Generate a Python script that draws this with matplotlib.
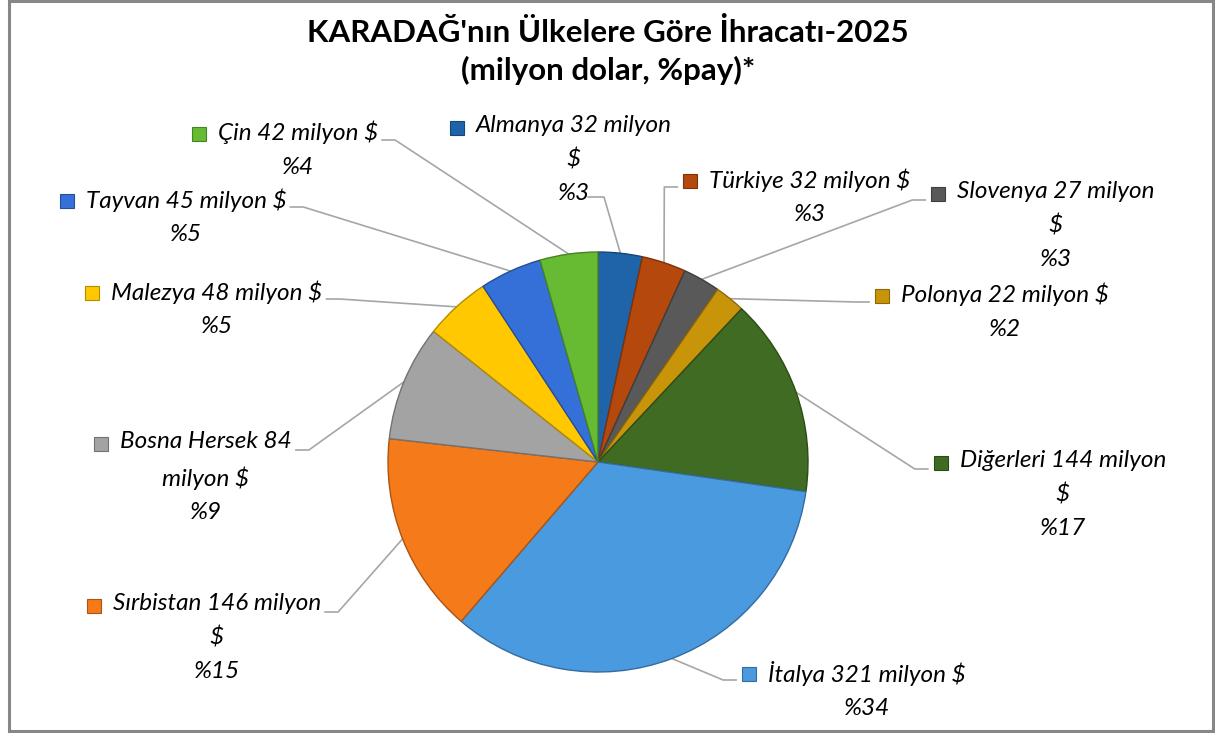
import matplotlib.pyplot as plt
import numpy as np
from matplotlib.patches import Rectangle
from matplotlib.colors import to_rgb

# data
countries = ["Almanya", "Türkiye", "Slovenya", "Polonya", "Diğerleri", "İtalya",
             "Sırbistan", "Bosna Hersek", "Malezya", "Tayvan", "Çin"]
values = [32, 32, 27, 22, 144, 321, 146, 84, 48, 45, 42]
shares = [3, 3, 3, 2, 17, 34, 15, 9, 5, 5, 4]
colors = ["#1F63A8", "#B5480C", "#595959", "#C8940A", "#3F6B22", "#4A9AE0",
          "#F47A1A", "#A3A3A3", "#FFC800", "#3570D8", "#66BB33"]

# label layout (pixels): text centre x, first line centre y, words on first line, side
lab_x = [574, 810, 1056, 1005, 1063, 867, 217, 206, 217, 186, 298]
lab_y = [127, 180, 193, 295, 462, 673, 605, 443, 292, 200, 133]
first_words = [3, 4, 3, 4, 3, 4, 3, 3, 4, 4, 4]
side = ["T", "R", "R", "R", "R", "R", "L", "L", "L", "L", "L"]

W, H = 1215, 733
LINE = 33
plt.rcParams['font.family'] = ['Lato', 'DejaVu Sans']

fig = plt.figure(figsize=(W / 100, H / 100), dpi=100)
ax = fig.add_axes([0, 0, 1, 1])

cx, cy, r = 598, H - 462, 210
wedges, _ = ax.pie(values, colors=colors, startangle=90, counterclock=False,
                   center=(cx, cy), radius=r,
                   wedgeprops=dict(linewidth=1.0))
for w, c in zip(wedges, colors):
    w.set_edgecolor(tuple(v * 0.7 for v in to_rgb(c)))

ax.set_xlim(0, W)
ax.set_ylim(0, H)
ax.set_aspect('auto')
ax.axis('off')

# title
ax.text(608, H - 32, "KARADAĞ'nın Ülkelere Göre İhracatı-2025", ha='center', va='center',
        fontsize=22.5, fontweight='bold')
ax.text(608, H - 70, "(milyon dolar, %pay)*", ha='center', va='center',
        fontsize=22.5, fontweight='bold')

texts = []
for i, name in enumerate(countries):
    words = f"{name} {values[i]} milyon $".split()
    lines = [" ".join(words[:first_words[i]])]
    if first_words[i] < len(words):
        lines.append(" ".join(words[first_words[i]:]))
    lines.append(f"%{shares[i]}")
    t = ax.text(lab_x[i], H - lab_y[i] + 12, "\n".join(lines), ha='center', va='top',
                multialignment='center', fontsize=17.5, fontstyle='italic',
                linespacing=1.72, color='black')
    texts.append(t)

fig.canvas.draw()
ren = fig.canvas.get_renderer()

for i, t in enumerate(texts):
    bb = t.get_window_extent(renderer=ren)
    ly = H - lab_y[i]
    # legend key
    ax.add_patch(Rectangle((bb.x0 - 26, ly - 8), 14, 14, facecolor=colors[i],
                           edgecolor=tuple(v * 0.7 for v in to_rgb(colors[i])), linewidth=0.8))
    w = wedges[i]
    ang = np.deg2rad((w.theta1 + w.theta2) / 2)
    px, py = cx + r * np.cos(ang), cy + r * np.sin(ang)
    if side[i] == "L":
        x0, y0 = bb.x1 + 4, ly - 7
        xs, ys = [x0, x0 + 13, px], [y0, y0, py]
    elif side[i] == "R":
        x0, y0 = bb.x0 - 32, ly - 7
        xs, ys = [x0, x0 - 13, px], [y0, y0, py]
    else:
        x0, y0 = lab_x[i] + 14, ly - 2 * LINE - 4
        xs, ys = [x0, x0 + 16, px], [y0, y0, py]
    ax.plot(xs, ys, color='#A6A6A6', linewidth=1.2, zorder=0)

# chart border
ax.add_patch(Rectangle((9, 2), W - 11, H - 3, fill=False, edgecolor='#878787',
                       linewidth=2.2, clip_on=False))

fig.savefig('out.png', dpi=100)
